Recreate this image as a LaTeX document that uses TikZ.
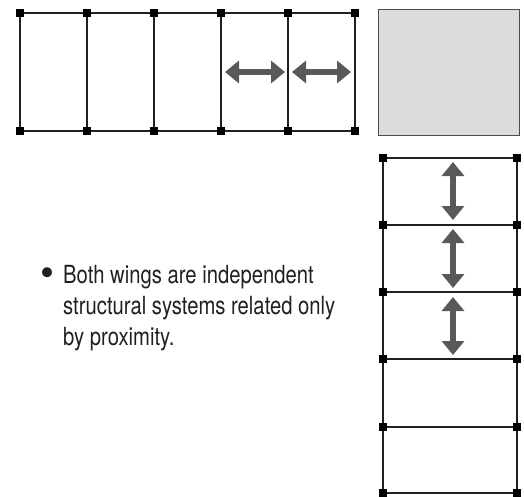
\documentclass[tikz,border=0pt]{standalone}
\usepackage{fontspec}
\setmainfont{TeX Gyre Heros}[FakeStretch=0.81]
\newfontfamily\bulletfont{TeX Gyre Heros}
\usetikzlibrary{arrows.meta}
\definecolor{arrowgray}{HTML}{58595B}
\definecolor{boxgray}{HTML}{DCDDDE}
\definecolor{boxedge}{HTML}{4D4D4F}
\definecolor{inkblack}{HTML}{231F20}
\tikzset{
  wall/.style={line width=1.4pt, draw=inkblack},
  post/.style={fill=black, inner sep=0pt, minimum size=8.5pt, draw=none},
  movearrow/.style={draw=arrowgray, line width=6pt,
    {Triangle[length=14pt,width=22pt]}-{Triangle[length=14pt,width=22pt]}},
  graybox/.style={fill=boxgray, draw=boxedge, line width=1pt},
  bodytext/.style={font=\fontsize{25}{31}\selectfont, inner sep=0pt, align=left, text=inkblack}
}
\begin{document}
\begin{tikzpicture}[x=1pt,y=-1pt]
\useasboundingbox (0,0) rectangle (524,496);
% top wing
\foreach \i/\x in {0/20,1/87,2/154,3/221,4/288,5/355}{
  \coordinate (t\i) at (\x,13);
  \coordinate (b\i) at (\x,131);
}
\draw[wall] (t0) -- (t5) (b0) -- (b5);
\foreach \i in {0,...,5}{ \draw[wall] (t\i) -- (b\i); }
\foreach \i in {0,...,5}{
  \node[post] (pt\i) at (t\i) {};
  \node[post] (pb\i) at (b\i) {};
}
% horizontal arrows
\coordinate (h1a) at (225,72); \coordinate (h1b) at (285,72);
\coordinate (h2a) at (292,72); \coordinate (h2b) at (351,72);
\draw[movearrow] (h1a) -- (h1b);
\draw[movearrow] (h2a) -- (h2b);
% gray box
\node[graybox, minimum width=141pt, minimum height=126pt, inner sep=0pt, anchor=north west] (gbox) at (378,9) {};
% right wing
\foreach \j/\y in {0/158,1/225,2/292,3/359,4/427,5/493}{
  \coordinate (l\j) at (383,\y);
  \coordinate (r\j) at (517,\y);
}
\draw[wall] (l0) -- (l5) (r0) -- (r5);
\foreach \j in {0,...,5}{ \draw[wall] (l\j) -- (r\j); }
\foreach \j in {0,...,5}{
  \node[post] (pl\j) at (l\j) {};
  \node[post] (pr\j) at (r\j) {};
}
% vertical arrows
\coordinate (v1a) at (453,162); \coordinate (v1b) at (453,220);
\coordinate (v2a) at (453,229); \coordinate (v2b) at (453,288);
\coordinate (v3a) at (453,297); \coordinate (v3b) at (453,355);
\draw[movearrow] (v1a) -- (v1b);
\draw[movearrow] (v2a) -- (v2b);
\draw[movearrow] (v3a) -- (v3b);
% text
\node[inner sep=0pt, text=inkblack, anchor=base, font=\bulletfont\fontsize{40}{40}\selectfont] (bullet) at (47,286) {•};
\node[bodytext, anchor=north west] (txt) at (63,265) {Both wings are independent\\structural systems related only\\by proximity.};
\end{tikzpicture}
\end{document}
